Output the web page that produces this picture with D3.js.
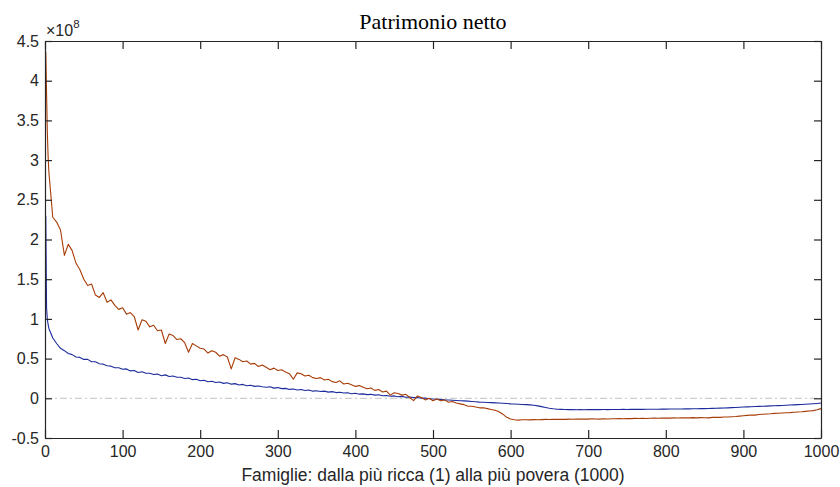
<!DOCTYPE html>
<html>
<head>
<meta charset="utf-8">
<script src="https://cdn.jsdelivr.net/npm/d3@7"></script>
<style>
  body { margin: 0; background: #fff; }
  svg { display: block; }
  .tick text { font-family: "Liberation Sans", Arial, sans-serif; font-size: 16px; fill: #262626; }
</style>
</head>
<body>
<svg id="chart" width="840" height="487"></svg>
<script>
// families (x): first four, then every 5th family
var famHead = [1, 2, 3, 4];
var famGrid = d3.range(5, 1001, 5);

// series values, units of 1e8
var redHead = [4.36, 3.85, 3.35, 3.05];
var redGrid = [
    2.85, 2.28, 2.22, 2.12, 1.80, 1.94, 1.86, 1.70, 1.62, 1.50,
    1.42, 1.44, 1.30, 1.27, 1.33, 1.21, 1.24, 1.17, 1.12, 1.14,
    1.06, 1.08, 1.03, 0.86, 0.99, 0.97, 0.90, 0.92, 0.85, 0.86,
    0.69, 0.81, 0.79, 0.74, 0.75, 0.70, 0.58, 0.69, 0.66, 0.63,
    0.62, 0.57, 0.60, 0.58, 0.53, 0.55, 0.52, 0.37, 0.51, 0.49,
    0.46, 0.47, 0.43, 0.44, 0.40, 0.42, 0.39, 0.36, 0.38, 0.35,
    0.36, 0.33, 0.31, 0.24, 0.32, 0.31, 0.28, 0.29, 0.26, 0.25,
    0.26, 0.23, 0.24, 0.21, 0.20, 0.22, 0.18, 0.19, 0.17, 0.15,
    0.16, 0.14, 0.12, 0.13, 0.10, 0.11, 0.08, 0.09, 0.04, 0.07,
    0.06, 0.04, 0.05, 0.01, -0.03, 0.03, 0.01, -0.02, 0.00, -0.03,
    -0.01, -0.03, -0.02, -0.05, -0.04, -0.06, -0.07, -0.08, -0.10, -0.10,
    -0.11, -0.12, -0.12, -0.13, -0.14, -0.15, -0.17, -0.20, -0.24, -0.26,
    -0.27, -0.275, -0.27, -0.27, -0.272, -0.268, -0.27, -0.268, -0.265, -0.267,
    -0.265, -0.266, -0.263, -0.265, -0.262, -0.264, -0.26, -0.262, -0.26, -0.262,
    -0.258, -0.26, -0.262, -0.258, -0.26, -0.257, -0.258, -0.255, -0.257, -0.255,
    -0.256, -0.253, -0.255, -0.252, -0.254, -0.252, -0.25, -0.252, -0.25, -0.248,
    -0.25, -0.247, -0.248, -0.245, -0.247, -0.246, -0.244, -0.246, -0.243, -0.245,
    -0.246, -0.24, -0.238, -0.24, -0.236, -0.235, -0.232, -0.23, -0.225, -0.22,
    -0.215, -0.21, -0.212, -0.205, -0.2, -0.198, -0.195, -0.19, -0.188, -0.185,
    -0.182, -0.18, -0.175, -0.172, -0.17, -0.165, -0.16, -0.155, -0.145, -0.13
];

var blueHead = [2.30, 1.14, 1.00, 0.93];
var blueGrid = [
    0.88, 0.76, 0.69, 0.63, 0.60, 0.565, 0.55, 0.52, 0.515, 0.49,
    0.49, 0.46, 0.46, 0.435, 0.43, 0.41, 0.405, 0.385, 0.385, 0.365,
    0.37, 0.345, 0.35, 0.325, 0.335, 0.315, 0.315, 0.30, 0.305, 0.285,
    0.295, 0.275, 0.28, 0.265, 0.265, 0.25, 0.255, 0.235, 0.24, 0.22,
    0.228, 0.208, 0.215, 0.198, 0.205, 0.188, 0.195, 0.178, 0.185, 0.168,
    0.175, 0.158, 0.165, 0.15, 0.155, 0.145, 0.14, 0.146, 0.128, 0.135,
    0.122, 0.125, 0.112, 0.118, 0.105, 0.11, 0.098, 0.104, 0.09, 0.095,
    0.085, 0.09, 0.078, 0.084, 0.072, 0.076, 0.066, 0.07, 0.058, 0.064,
    0.052, 0.056, 0.046, 0.05, 0.04, 0.044, 0.032, 0.036, 0.026, 0.03,
    0.02, 0.024, 0.014, 0.016, 0.008, 0.01, 0.0, 0.004, -0.005, -0.008,
    -0.012, -0.015, -0.02, -0.022, -0.025, -0.028, -0.03, -0.033, -0.036, -0.04,
    -0.044, -0.048, -0.05, -0.052, -0.055, -0.058, -0.06, -0.063, -0.066, -0.07,
    -0.072, -0.075, -0.078, -0.08, -0.083, -0.087, -0.095, -0.105, -0.115, -0.125,
    -0.132, -0.137, -0.14, -0.142, -0.143, -0.143, -0.144, -0.143, -0.144, -0.143,
    -0.143, -0.142, -0.143, -0.142, -0.142, -0.141, -0.142, -0.141, -0.14, -0.141,
    -0.14, -0.14, -0.139, -0.139, -0.138, -0.138, -0.137, -0.137, -0.136, -0.136,
    -0.135, -0.135, -0.134, -0.134, -0.133, -0.133, -0.132, -0.131, -0.13, -0.13,
    -0.128, -0.127, -0.125, -0.124, -0.122, -0.12, -0.118, -0.116, -0.113, -0.11,
    -0.108, -0.106, -0.104, -0.102, -0.1, -0.098, -0.096, -0.094, -0.092, -0.09,
    -0.088, -0.085, -0.083, -0.08, -0.078, -0.075, -0.072, -0.069, -0.065, -0.06
];

var xTicks = [0, 100, 200, 300, 400, 500, 600, 700, 800, 900, 1000];
var yTicks = [-0.5, 0, 0.5, 1, 1.5, 2, 2.5, 3, 3.5, 4, 4.5];

var fam = famHead.concat(famGrid);
var redVals = redHead.concat(redGrid);
var blueVals = blueHead.concat(blueGrid);
var redData = fam.map((f, i) => ({ f: f, v: redVals[i] }));
var blueData = fam.map((f, i) => ({ f: f, v: blueVals[i] }));

var svg = d3.select("#chart");
var plotLeft = 45, plotRight = 821, plotTop = 41, plotBottom = 438;
var axisColor = "#262626";

var x = d3.scaleLinear().domain([0, 1000]).range([plotLeft, plotRight]);
var y = d3.scaleLinear().domain([-0.5, 4.5]).range([plotBottom, plotTop]);

// zero reference line (dash-dot)
svg.append("line")
    .attr("x1", x(0)).attr("x2", x(1000))
    .attr("y1", y(0)).attr("y2", y(0))
    .attr("stroke", "#c4c4c4")
    .attr("stroke-width", 1)
    .attr("stroke-dasharray", "7,3,2,3");

var line = d3.line()
    .x(d => x(d.f))
    .y(d => y(d.v));

svg.append("path")
    .datum(blueData)
    .attr("fill", "none")
    .attr("stroke", "#1c2c9c")
    .attr("stroke-width", 1.1)
    .attr("stroke-linejoin", "round")
    .attr("d", line);

svg.append("path")
    .datum(redData)
    .attr("fill", "none")
    .attr("stroke", "#a83c06")
    .attr("stroke-width", 1.1)
    .attr("stroke-linejoin", "round")
    .attr("d", line);

// axes, ticks pointing inward like matlab
var fmt = d => String(d);

svg.append("g")
    .attr("transform", `translate(0,${plotBottom})`)
    .call(d3.axisBottom(x).tickValues(xTicks).tickFormat(fmt).tickSize(-8).tickSizeOuter(0).tickPadding(8));

svg.append("g")
    .attr("transform", `translate(0,${plotTop})`)
    .call(d3.axisTop(x).tickValues(xTicks).tickFormat("").tickSize(-8).tickSizeOuter(0));

svg.append("g")
    .attr("transform", `translate(${plotLeft},0)`)
    .call(d3.axisLeft(y).tickValues(yTicks).tickFormat(fmt).tickSize(-7).tickSizeOuter(0).tickPadding(6));

svg.append("g")
    .attr("transform", `translate(${plotRight},0)`)
    .call(d3.axisRight(y).tickValues(yTicks).tickFormat("").tickSize(-7).tickSizeOuter(0));

svg.selectAll(".domain, .tick line")
    .attr("stroke", axisColor)
    .attr("stroke-width", 1.2);

// exponent label
var expo = svg.append("text")
    .attr("x", 46)
    .attr("y", 36)
    .attr("font-family", "Liberation Sans, Arial, sans-serif")
    .attr("font-size", 16)
    .attr("fill", axisColor);
expo.append("tspan").text("×10");
expo.append("tspan").attr("dy", -8).attr("font-size", 11.5).text("8");

// title
svg.append("text")
    .attr("x", (plotLeft + plotRight) / 2)
    .attr("y", 29)
    .attr("text-anchor", "middle")
    .attr("font-family", "Liberation Serif, Times New Roman, serif")
    .attr("font-size", 22)
    .attr("fill", "#000")
    .text("Patrimonio netto");

// x label
svg.append("text")
    .attr("x", (plotLeft + plotRight) / 2)
    .attr("y", 481)
    .attr("text-anchor", "middle")
    .attr("font-family", "Liberation Sans, Arial, sans-serif")
    .attr("font-size", 17.5)
    .attr("fill", axisColor)
    .text("Famiglie: dalla più ricca (1) alla più povera (1000)");
</script>
</body>
</html>
